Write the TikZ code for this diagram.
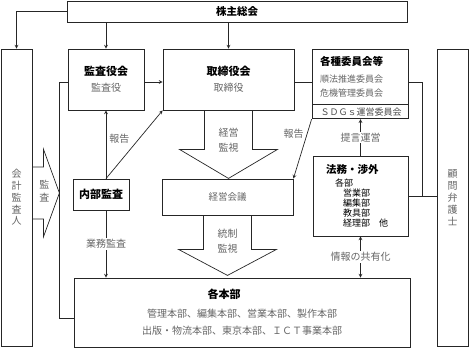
\documentclass[tikz,border=0pt]{standalone}
\usepackage{fontspec}
\setmainfont{Noto Sans CJK JP}
\usepackage{xcolor}
\usetikzlibrary{positioning}

\tikzset{
    box/.style={draw=black!85, line width=0.8pt, fill=white, inner sep=2pt, align=center},
    lbl/.style={fill=white, inner sep=1pt, text=black!60, font=\fontsize{10}{12}\selectfont},
    link/.style={draw=black!85, line width=0.7pt},
}

\begin{document}
\begin{tikzpicture}[>=stealth, x=1pt, y=-1pt]

    \useasboundingbox (0,0) rectangle (470,349);

    % =================================================================
    % 1. 上段の枠（株主総会・監査役会・取締役会・各種委員会等）
    % =================================================================
    \node[box, minimum width=340, minimum height=21] (kabunushi) at (237,11.5)
        {\bfseries\fontsize{10.5}{12}\selectfont 株主総会};

    \node[box, minimum width=76, minimum height=61, text=black!60,
          font=\fontsize{10}{12}\selectfont] (kansayaku) at (106,79.5)
        {{\color{black}\bfseries\fontsize{11}{13}\selectfont 監査役会}\\[4pt] 監査役};

    \node[box, minimum width=131, minimum height=61, text=black!60,
          font=\fontsize{10}{12}\selectfont] (torishimari) at (228.5,79.5)
        {{\color{black}\bfseries\fontsize{11}{13}\selectfont 取締役会}\\[4pt] 取締役};

    % 各種委員会等（下に ＳＤＧｓ の段）
    \node[box, align=left, text width=80, inner xsep=8, minimum height=55, text=black!60,
          font=\fontsize{9}{14}\selectfont] (iinkai) at (360,76.5)
        {{\color{black}\bfseries\fontsize{10.5}{13}\selectfont 各種委員会等}\\[3pt]
         順法推進委員会\\ 危機管理委員会};
    \node[box, below=0pt of iinkai, align=left, text width=79, inner xsep=8.5, inner ysep=0pt,
          minimum height=14, text=black!70, font=\fontsize{9}{11}\selectfont] (sdgs)
        {ＳＤＧｓ運営委員会};

    % =================================================================
    % 2. 中段・下段の枠
    % =================================================================
    \node[box, minimum width=131, minimum height=36, text=black!60,
          font=\fontsize{9.5}{12}\selectfont] (keiei) at (227.5,197) {経営会議};

    \node[box, minimum width=56, minimum height=31,
          font=\fontsize{11}{13}\selectfont\bfseries] (naibu) at (101,194.5) {内部監査};

    \node[box, align=left, text width=69, inner xsep=13, minimum height=80,
          font=\fontsize{9}{10}\selectfont] (houmu) at (360.5,196)
        {{\bfseries\fontsize{10.5}{12}\selectfont 法務・渉外}\\[3pt]
         \hspace*{9pt}各部\\ \hspace*{17pt}営業部\\ \hspace*{17pt}編集部\\
         \hspace*{17pt}教具部\\ \hspace*{17pt}経理部\hspace{9pt}他};

    \node[box, minimum width=336, minimum height=69, text=black!60,
          font=\fontsize{10}{13}\selectfont] (honbu) at (242,312.5)
        {{\color{black}\bfseries\fontsize{11}{13}\selectfont 各本部}\hspace*{36pt}\\[6pt]
         管理本部、編集本部、営業本部、製作本部\\[4pt]
         出版・物流本部、東京本部、ＩＣＴ事業本部};

    % 左右の縦長の枠
    \node[box, minimum width=31, minimum height=297, text=black!60,
          font=\fontsize{10}{11.8}\selectfont] (kaikei) at (16.5,197.5)
        {会\\計\\監\\査\\人};
    \node[box, minimum width=31, minimum height=297, text=black!60,
          font=\fontsize{10}{12}\selectfont] (komon) at (452.5,197.5)
        {顧\\問\\弁\\護\\士};

    % =================================================================
    % 3. 太矢印（経営監視・統制監視・監査）
    % =================================================================
    \foreach \from/\neck/\len/\txt/\dy in {torishimari/39/68/{経営\\監視}/29.5,
                                          keiei/34/60/{統制\\監視}/26} {
        \draw[link, shift={(\from.south)}]
            (-24,0) -- (-24,\neck) -- (-49,\neck) -- (0,\len)
            -- (49,\neck) -- (24,\neck) -- (24,0);
        \node[text=black!60, font=\fontsize{10}{15}\selectfont, align=center]
            (\from-kanshi) at ([yshift=-\dy pt]\from.south) {\txt};
    }

    \draw[link, shift={([yshift=4.5pt]kaikei.east)}]
        (0,-26) -- (11,-26) -- (11,-44) -- (27,0) -- (11,44) -- (11,26) -- (0,26);
    \node[text=black!60, font=\fontsize{10}{13}\selectfont, align=center]
        (kansa) at ([xshift=12pt, yshift=6pt]kaikei.east) {監\\査};

    % =================================================================
    % 4. 接続線
    % =================================================================
    \draw[link, ->] (kabunushi.west) -| (kaikei.north);
    \draw[link, ->] (kabunushi.south -| kansayaku) -- (kansayaku.north);
    \draw[link, ->] (kabunushi.south -| torishimari) -- (torishimari.north);

    \draw[link, ->] ([yshift=-2.5pt]kansayaku.east) -- ([yshift=-2.5pt]torishimari.west);
    \draw[link] ([yshift=-2.5pt]torishimari.east) -- ([yshift=-2.5pt]torishimari.east -| iinkai.west);

    % 委員会・法務と顧問弁護士
    \coordinate (bus) at (422,0);
    \draw[link] ([yshift=-6pt]iinkai.east) -| (bus |- houmu.east);
    \draw[link] (houmu.east) -- (komon.west |- houmu.east);

    \draw[link, ->] (houmu.north) -- (houmu.north |- sdgs.south)
        node[lbl, midway] {提言運営};
    \draw[link, <->] (houmu.south) -- (houmu.south |- honbu.north)
        node[lbl, midway] {情報の共有化};
    \draw[link, ->] (sdgs.south west) -- (keiei.north east)
        node[lbl, pos=0.25, left=2pt, fill=none] {報告};

    % 内部監査まわり
    \draw[link, ->] (naibu.north -| kansayaku) -- (kansayaku.south)
        node[lbl, pos=0.58, right=2pt, fill=none] {報告};
    \draw[link, ->] (naibu.north -| kansayaku) -- (torishimari.south west);
    \draw[link, ->] (naibu.south -| kansayaku) -- (kansayaku |- honbu.north)
        node[lbl, midway] {業務監査};
    \draw[link] ([yshift=-2.5pt]kansayaku.west) -- ++(-8,0) |- ([yshift=-5.5pt]honbu.west);

\end{tikzpicture}
\end{document}
